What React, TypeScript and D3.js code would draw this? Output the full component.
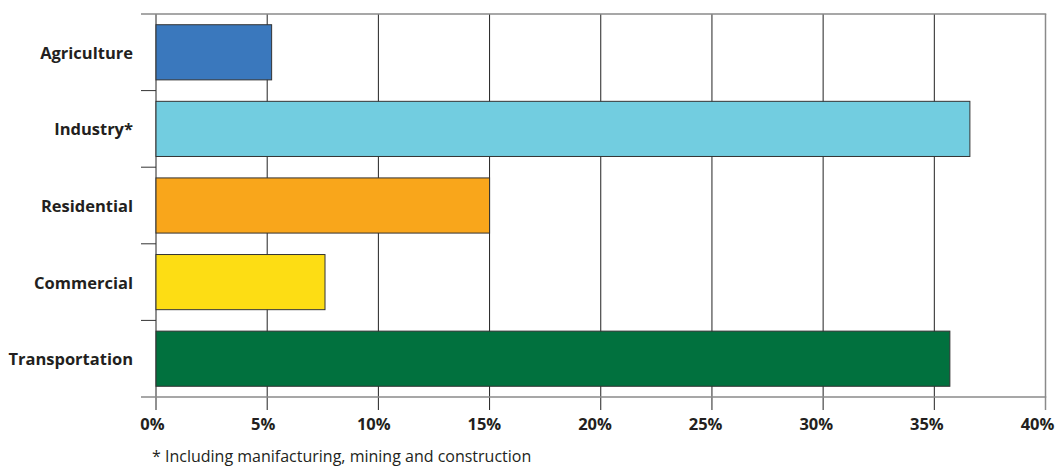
import React from "react";
import * as d3 from "d3";

const categories = ["Agriculture", "Industry*", "Residential", "Commercial", "Transportation"];
const values = [5.2, 36.6, 15.0, 7.6, 35.7];
const colors = ["#3a78bd", "#72cde0", "#f9a61b", "#fddd14", "#01713e"];
const ticks = [0, 5, 10, 15, 20, 25, 30, 35, 40];
const footnote = "* Including manifacturing, mining and construction";

export default function App() {
  const W = 1063, H = 467;
  const left = 156, right = 1045.5, top = 14, bottom = 397;
  const x = d3.scaleLinear().domain([0, 40]).range([left, right]);
  const xl = d3.scaleLinear().domain([0, 40]).range([left - 3.5, right - 8]);
  const y = d3.scaleBand().domain(categories).range([top, bottom]).paddingInner(0.28).paddingOuter(0.14);
  const band = d3.scaleBand().domain(categories).range([top, bottom]);
  const font = "'Open Sans', 'DejaVu Sans', sans-serif";
  return (
    <svg width={W} height={H} style={{ position: "absolute", left: 0, top: 0, background: "#fff" }}>
      {ticks.map((t) => (
        <line key={"g" + t} x1={x(t)} x2={x(t)} y1={top} y2={410}
          stroke={t === 40 ? "#8a8a8a" : "#222"} strokeWidth={t === 40 ? 1.5 : 1} />
      ))}
      <line x1={141} x2={right + 0.75} y1={top} y2={top} stroke="#8a8a8a" strokeWidth={1.5} />
      <line x1={141} x2={right + 0.75} y1={bottom} y2={bottom} stroke="#8a8a8a" strokeWidth={1.5} />
      {categories.slice(1).map((c) => (
        <line key={"s" + c} x1={141} x2={left} y1={band(c)!} y2={band(c)!} stroke="#333" strokeWidth={1} />
      ))}
      {categories.map((c, i) => (
        <rect key={c} x={x(0)} y={y(c)!} width={x(values[i]) - x(0)} height={y.bandwidth()}
          fill={colors[i]} stroke="#333" strokeWidth={1} />
      ))}
      {categories.map((c) => (
        <text key={"l" + c} x={133} y={band(c)! + band.bandwidth() / 2} textAnchor="end" dominantBaseline="central"
          fontFamily={font} fontWeight="bold" fontSize={16.5} fill="#231f20">{c}</text>
      ))}
      {ticks.map((t) => (
        <text key={"t" + t} x={xl(t)} y={430} textAnchor="middle"
          fontFamily={font} fontWeight="bold" fontSize={16.5} fill="#231f20">{t + "%"}</text>
      ))}
      <text x={152} y={462} fontFamily={font} fontSize={16} fill="#231f20">{footnote}</text>
    </svg>
  );
}
